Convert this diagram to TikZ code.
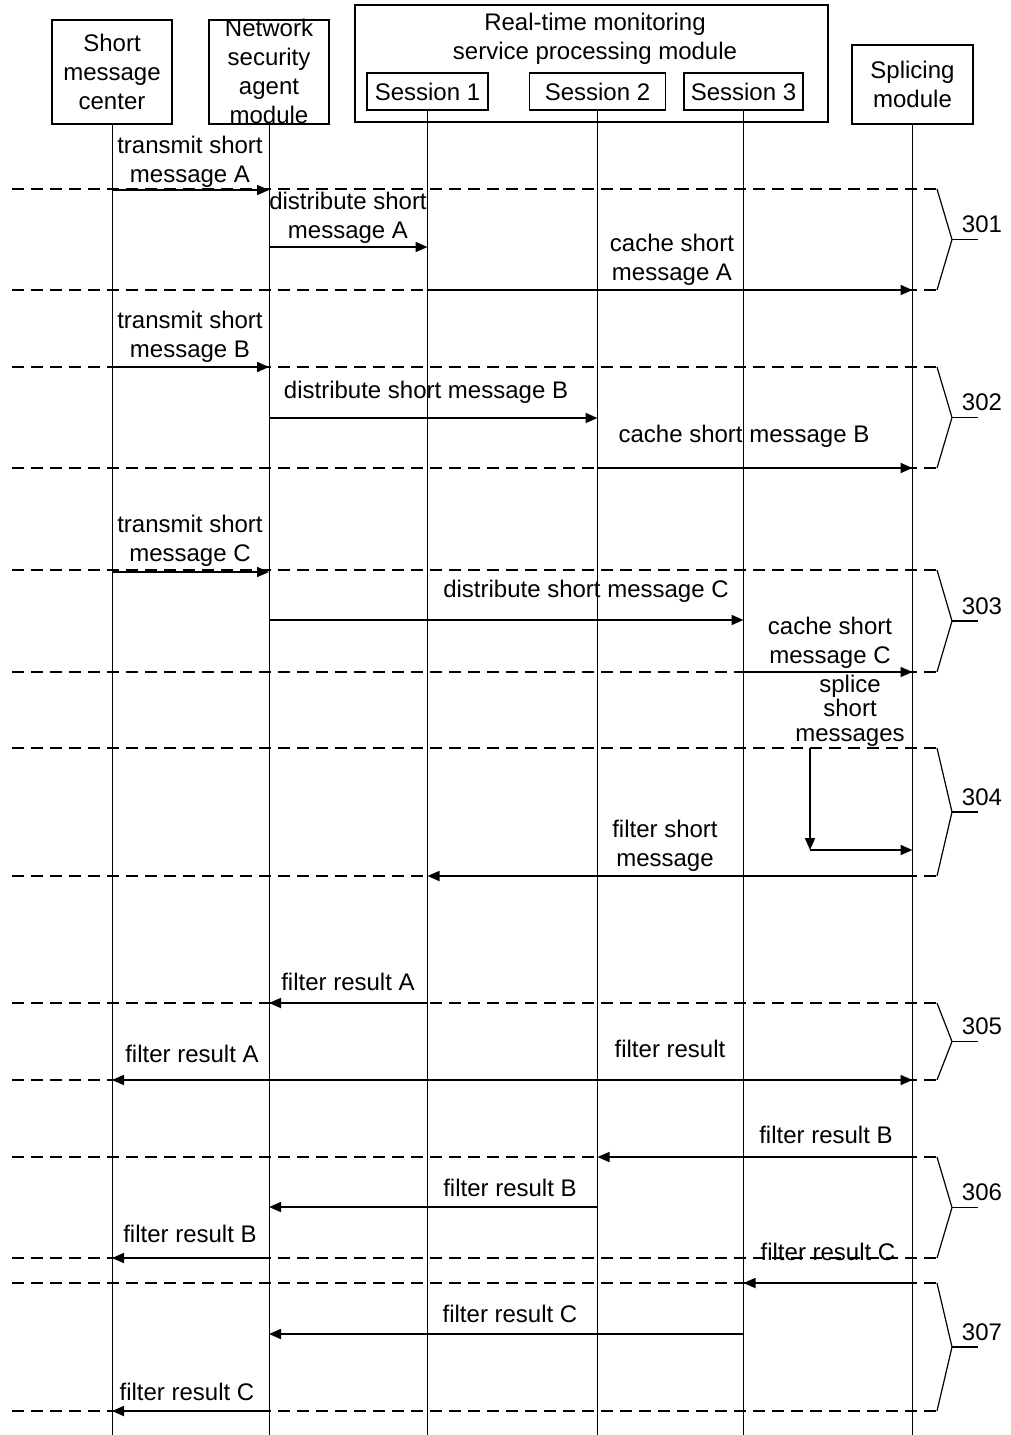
\documentclass[tikz,border=0pt]{standalone}
\usepackage{fontspec}
\setmainfont{Liberation Sans}
\usetikzlibrary{arrows.meta}
\tikzset{
  box/.style={draw, line width=0.75pt, inner sep=0pt, align=center},
  life/.style={line width=0.5pt},
  msg/.style={line width=0.9pt, -{Triangle[length=6pt,width=5pt]}},
  grp/.style={line width=0.6pt, dash pattern=on 6pt off 3.5pt},
  txt/.style={align=center, inner sep=0pt},
}
\begin{document}
\begin{tikzpicture}[x=0.5pt, y=-0.5pt, font=\fontsize{12}{14.5}\selectfont]
  \useasboundingbox (0,0) rectangle (1011,1435);
  \node[box, minimum width=60pt, minimum height=52pt] (smc) at (112,72) {Short\\message\\center};
  \node[box, minimum width=60pt, minimum height=52pt] (nsa) at (269,72) {};
  \node[txt] (nsatext) at (269,71.5) {Network\\security\\agent\\module};
  \node[box, minimum width=236.5pt, minimum height=58.5pt] (rtm) at (591.5,63.5) {};
  \node[txt] (rtmtext) at (595,38.5) {Real-time monitoring\\service processing module};
  \node[box, minimum width=60.5pt, minimum height=18.5pt] (s1) at (427.5,91.5) {Session 1};
  \node[box, minimum width=68pt, minimum height=18.5pt] (s2) at (597.5,91.5) {Session 2};
  \node[box, minimum width=59.5pt, minimum height=18.5pt] (s3) at (743.5,91.5) {Session 3};
  \node[box, minimum width=60.5pt, minimum height=39.5pt] (spl) at (912.5,84.5) {Splicing\\module};
  \foreach \n in {smc,nsa,s1,s2,s3,spl}
    \draw[life] (\n.south) -- (\n |- 0,1435);
  \foreach \t/\b/\l in {189/290/301, 367/468/302, 570/672/303, 748/876/304,
                        1003/1080/305, 1157/1258/306, 1283/1411/307} {
    \draw[grp] (12,\t) -- (937,\t);
    \draw[grp] (12,\b) -- (937,\b);
    \draw[line width=0.6pt] (937,\t) -- (952,{(\t+\b)/2}) -- (937,\b);
    \draw[line width=0.6pt] (952,{(\t+\b)/2}) -- (978,{(\t+\b)/2});
    \node[txt] (g\l) at (982,{(\t+\b)/2-15}) {\l};
  }
  \foreach \a/\b/\y in {smc/nsa/190, nsa/s1/247, s1/spl/290,
                        smc/nsa/367, nsa/s2/418, s2/spl/468,
                        smc/nsa/572, nsa/s3/620, s3/spl/672,
                        spl/s1/876,
                        s1/nsa/1003, nsa/smc/1080, nsa/spl/1080,
                        spl/s2/1157, s2/nsa/1207, nsa/smc/1258,
                        spl/s3/1283, s3/nsa/1334, nsa/smc/1411}
    \draw[msg] (\a |- 0,\y) -- (\b |- 0,\y);
  \coordinate (spA) at (810,748);
  \coordinate (spB) at (810,850);
  \draw[msg] (spA) -- (spB);
  \draw[msg] (spB) -- (spl |- spB);
  \node[txt] (tA) at (190,161.5) {transmit short\\message A};
  \node[txt] (dA) at (348,217.5) {distribute short\\message A};
  \node[txt] (cA) at (672,259.5) {cache short\\message A};
  \node[txt] (tB) at (190,336.5) {transmit short\\message B};
  \node[txt] (dB) at (426,392) {distribute short message B};
  \node[txt] (cB) at (744,436) {cache short message B};
  \node[txt] (tC) at (190,540.5) {transmit short\\message C};
  \node[txt] (dC) at (586,591) {distribute short message C};
  \node[txt] (cC) at (830,642.5) {cache short\\message C};
  \node[txt, font=\fontsize{12}{12.3}\selectfont] (sp) at (850,710.5) {splice\\short\\messages};
  \node[txt] (fs) at (665,845.5) {filter short\\message};
  \node[txt] (frA1) at (348,982) {filter result A};
  \node[txt] (frA2) at (192,1054) {filter result A};
  \node[txt] (fr) at (670,1049) {filter result};
  \node[txt] (frB1) at (826,1135) {filter result B};
  \node[txt] (frB2) at (510,1188) {filter result B};
  \node[txt] (frB3) at (190,1234) {filter result B};
  \node[txt] (frC1) at (828,1252) {filter result C};
  \node[txt] (frC2) at (510,1314) {filter result C};
  \node[txt] (frC3) at (187,1392) {filter result C};
\end{tikzpicture}
\end{document}
